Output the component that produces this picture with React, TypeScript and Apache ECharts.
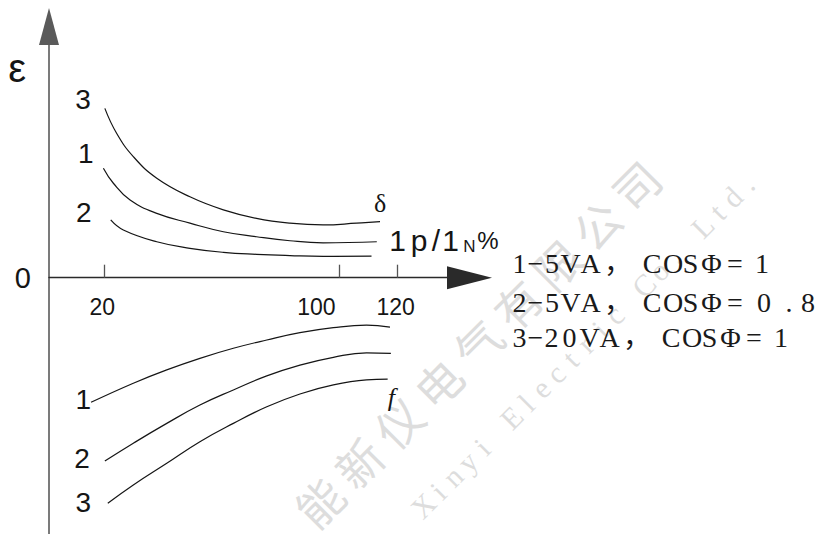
import { useEffect, useRef } from 'react';
import * as echarts from 'echarts';

// ---------- data ----------
const xTickValues = [20, 100, 120];
const yTickValues = [0];
const xAxisNameParts = ['1', 'p', '/', '1', 'N', '%'];
const yAxisName = 'ε';

// δ (ratio error) curves, upper half
const delta1X = [19.7, 23.1, 28.8, 37.9, 49.2, 60.6, 71.9, 83.3, 94.6, 112.9];
const delta1Y = [4.36, 3.76, 3.09, 2.56, 2.17, 1.83, 1.63, 1.47, 1.39, 1.43];
const delta2X = [22.2, 26.5, 37.9, 49.2, 60.6, 71.9, 83.3, 94.6, 111.1];
const delta2Y = [2.3, 1.9, 1.43, 1.17, 1.01, 0.93, 0.88, 0.85, 0.86];
const delta3X = [20.2, 24.2, 29.9, 37.9, 49.2, 60.6, 71.9, 83.3, 94.6, 106, 114];
const delta3Y = [6.74, 5.75, 4.82, 3.96, 3.22, 2.7, 2.36, 2.17, 2.1, 2.17, 2.23];

// f (phase error) curves, lower half
const f1X = [15.5, 29.9, 41.3, 52.6, 64, 75.4, 86.7, 98.1, 109.4, 117.4];
const f1Y = [-4.96, -4.2, -3.67, -3.21, -2.81, -2.48, -2.19, -1.99, -1.89, -1.97];
const f2X = [20.2, 29.9, 41.3, 52.6, 64, 75.4, 86.7, 98.1, 109.4, 117.7];
const f2Y = [-7.3, -6.59, -5.8, -5.07, -4.47, -3.91, -3.48, -3.17, -2.99, -3.01];
const f3X = [21.2, 29.9, 41.3, 52.6, 64, 75.4, 86.7, 98.1, 109.4, 116.6];
const f3Y = [-8.98, -8.25, -7.39, -6.53, -5.8, -5.14, -4.63, -4.27, -4.07, -4.04];

const curveNames = ['1', '2', '3'];
const deltaName = 'δ';
const fName = 'f';
const legendLines = ['1−5VA，COSΦ=1', '2−5VA，COSΦ=0.8', '3−20VA，COSΦ=1'];
const watermarkCn = '能新仪电气有限公司';
const watermarkEn = 'Xinyi Electric Co. Ltd.';

// ---------- styling ----------
const INK = '#151515';
const X_AXIS = '#2a2a2a';
const Y_AXIS = '#5a5a5a';
const SANS = "'Liberation Sans', Arial, sans-serif";
const SERIF = "'Liberation Serif', 'Times New Roman', serif";
const LEG_FONT = "'Liberation Serif', 'Noto Sans CJK SC', serif";
const WM = '#dddddd';

const numLabel = { fontFamily: SANS, fontSize: 28, color: INK, align: 'center', verticalAlign: 'middle' };

function curve(
  name: string,
  xs: number[],
  ys: number[],
  startText: string,
  startOffset: number[],
  endText?: string,
  endOffset?: number[],
  endFont?: any
) {
  const data = xs.map((x, i) => {
    const item: any = { value: [x, ys[i]] };
    if (i === 0) item.label = { show: true, formatter: startText, offset: startOffset, ...numLabel };
    if (endText && i === xs.length - 1)
      item.label = { show: true, formatter: endText, offset: endOffset, align: 'center', verticalAlign: 'middle', ...endFont };
    return item;
  });
  return {
    type: 'line',
    name,
    data,
    smooth: 0.45,
    symbol: 'circle',
    symbolSize: 0,
    showSymbol: true,
    lineStyle: { color: INK, width: 1.2 },
    itemStyle: { color: INK },
    label: { show: false, position: 'inside' },
    silent: true,
    z: 3,
  };
}

const LEG_BOX: Record<string, number> = {
  '1': 16, '2': 16, '3': 16, '−': 16, '5': 17, '0': 20, 'V': 20, 'A': 20,
  'C': 20, 'O': 22, 'S': 13, 'Φ': 29, '8': 20,
};

function legendRich(line: string) {
  const toks: { t: string; w: number }[] = [];
  for (const ch of line) {
    if (ch === '，') {
      toks.push({ t: '，', w: 35.2 });
      toks.push({ t: ' ', w: 6.3 });
    } else if (ch === '=') {
      toks.push({ t: '=', w: 18 });
      toks.push({ t: ' ', w: 10 });
    } else if (ch === '.') {
      toks.push({ t: ' ', w: 6 });
      toks.push({ t: '.', w: 18 });
    } else {
      toks.push({ t: ch, w: LEG_BOX[ch] ?? 18 });
    }
  }
  const rich: any = {};
  const text = toks
    .map((tk, i) => {
      rich['g' + i] = { width: tk.w, align: 'center', fontSize: 28, fontFamily: LEG_FONT, fill: '#1a1a1a' };
      return `{g${i}|${tk.t}}`;
    })
    .join('');
  return { text, rich };
}

function spacedRich(str: string, pitch: number, fontSize: number, fontFamily: string, fill: string) {
  const rich: any = {};
  const chars = Array.from(str);
  const text = chars
    .map((ch, i) => {
      rich['c' + i] = { width: pitch, align: 'center', fontSize, fontFamily, fill };
      return `{c${i}|${ch}}`;
    })
    .join('');
  return { text, rich };
}

const NAME_W: Record<string, number> = { '1': 19, 'p': 24, '/': 10, 'N': 19, '%': 18 };

export default function App() {
  const ref = useRef<HTMLDivElement>(null);

  useEffect(() => {
    if (!ref.current) return;
    const chart = echarts.init(ref.current, undefined, { renderer: 'svg' });

    const nameRich: any = {};
    const nameText = xAxisNameParts
      .map((p, i) => {
        const small = p === 'N';
        const pct = p === '%';
        nameRich['n' + i] = {
          width: NAME_W[p],
          align: 'center',
          fontFamily: SANS,
          fontSize: small ? 17 : pct ? 24 : 30,
          color: INK,
          verticalAlign: small ? 'bottom' : 'middle',
        };
        return `{n${i}|${p}}`;
      })
      .join('');

    const legendY = [263.6, 302, 337];
    const legendGraphics = legendLines.map((line, i) => {
      const { text, rich } = legendRich(line);
      return {
        type: 'text',
        x: 511.5,
        y: legendY[i],
        z: 5,
        silent: true,
        style: { text, rich, align: 'left', verticalAlign: 'middle', fontSize: 28, fontFamily: LEG_FONT, fill: '#1a1a1a' },
      };
    });

    const wmCn = spacedRich(watermarkCn, 56, 46, "'Noto Sans CJK SC', sans-serif", WM);
    const wmEn = spacedRich(watermarkEn, 20.8, 30, SERIF, WM);

    const option: any = {
      animation: false,
      backgroundColor: '#ffffff',
      grid: { left: 49, right: 349.5, top: 26.5, bottom: -20, containLabel: false, outerBoundsMode: 'none' },
      xAxis: {
        type: 'value',
        position: 'bottom',
        offset: -276.3,
        min: 1.16,
        max: 144.5,
        name: nameText,
        nameLocation: 'end',
        nameGap: -81.5,
        nameMoveOverlap: false,
        nameTextStyle: { rich: nameRich, align: 'left', verticalAlign: 'middle', padding: [0, 0, 75, 0] },
        axisLine: {
          show: true,
          onZero: false,
          symbol: ['none', 'triangle'],
          symbolSize: [23, 45],
          lineStyle: { color: X_AXIS, width: 1.4 },
        },
        axisTick: { show: true, inside: true, length: 13, customValues: xTickValues, lineStyle: { color: '#555', width: 1.3 } },
        axisLabel: {
          show: true,
          customValues: xTickValues,
          margin: 18,
          fontFamily: SANS,
          fontSize: 23,
          color: INK,
          formatter: (v: number) => (v === 100 ? `{s|${v}}` : `{n|${v}}`),
          rich: {
            s: { padding: [0, 45, 0, 0], fontFamily: SANS, fontSize: 23, color: INK },
            n: { padding: [0, 4, 0, 0], fontFamily: SANS, fontSize: 23, color: INK },
          },
        },
        splitLine: { show: false },
      },
      yAxis: {
        type: 'value',
        min: -11,
        max: 10,
        name: yAxisName,
        nameLocation: 'end',
        nameGap: -41.5,
        nameMoveOverlap: false,
        nameTextStyle: { fontFamily: SANS, fontSize: 40, color: INK, align: 'right', verticalAlign: 'middle', padding: [0, 23, 0, 0] },
        axisLine: {
          show: true,
          onZero: false,
          symbol: ['none', 'triangle'],
          symbolSize: [20, 37],
          lineStyle: { color: Y_AXIS, width: 1.6 },
        },
        axisTick: { show: false },
        axisLabel: { show: true, customValues: yTickValues, margin: 18, fontFamily: SANS, fontSize: 29, color: INK },
        splitLine: { show: false },
      },
      graphic: [
        {
          type: 'text',
          x: 477,
          y: 343,
          rotation: Math.PI / 4,
          z: -10,
          silent: true,
          style: { text: wmCn.text, rich: wmCn.rich, align: 'center', verticalAlign: 'middle', fontSize: 46, fill: WM },
        },
        {
          type: 'text',
          x: 585,
          y: 344,
          rotation: Math.PI / 4,
          z: -10,
          silent: true,
          style: { text: wmEn.text, rich: wmEn.rich, align: 'center', verticalAlign: 'middle', fontSize: 30, fill: WM },
        },
        ...legendGraphics,
      ],
      series: [
        curve('δ3', delta3X, delta3Y, curveNames[2], [-21.7, -9], deltaName, [0, -17.7], {
          fontFamily: SERIF,
          fontSize: 26,
          color: INK,
        }),
        curve('δ1', delta1X, delta1Y, curveNames[0], [-17.5, -15]),
        curve('δ2', delta2X, delta2Y, curveNames[1], [-26.9, -7.2]),
        curve('f1', f1X, f1Y, curveNames[0], [-7.7, -3.1]),
        curve('f2', f2X, f2Y, curveNames[1], [-22.7, -2.7]),
        curve('f3', f3X, f3Y, curveNames[2], [-24.4, -0.6], fName, [3.8, 18.7], {
          fontFamily: SERIF,
          fontSize: 26,
          fontStyle: 'italic',
          color: INK,
        }),
      ],
    };

    chart.setOption(option);
    return () => chart.dispose();
  }, []);

  return (
    <div
      ref={ref}
      style={{ position: 'fixed', left: 0, top: 0, width: 819, height: 534, background: '#fff' }}
    />
  );
}
